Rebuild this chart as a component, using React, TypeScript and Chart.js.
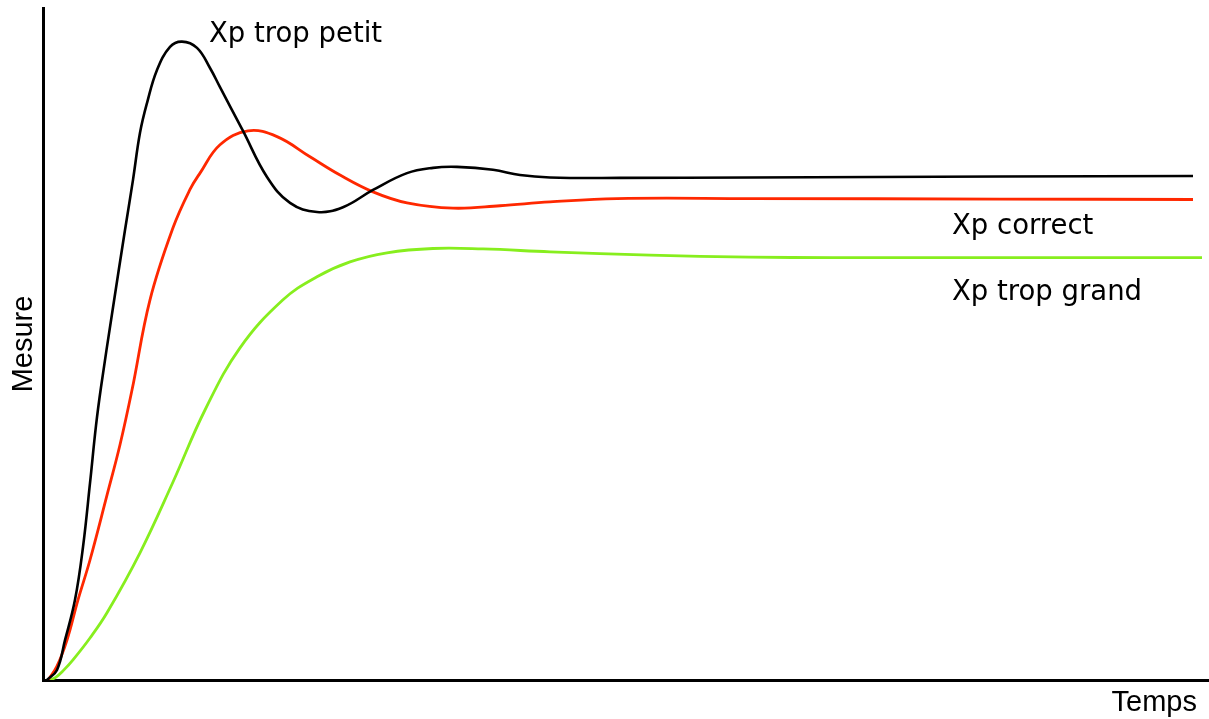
import React, { useEffect, useRef } from "react";
import { Chart, registerables } from "chart.js";

Chart.register(...registerables);

// Time (arbitrary units) and measured value (1 = set point)
const blackT = [0.4, 1.4, 2.2, 3.2, 4.0, 4.7, 5.3, 5.8, 6.9, 8.2, 9.0, 9.7, 10.4, 11.4, 12.7, 13.9, 15.4, 16.7, 17.7, 20.0, 22.4, 24.7, 27.4, 30.0, 33.0, 36.4, 39.0, 41.4, 45.0, 47.7, 50.7, 57.7, 70.7, 95.7, 115.0];
const blackY = [0, 0.021, 0.083, 0.167, 0.277, 0.41, 0.53, 0.61, 0.7625, 0.9375, 1.042, 1.14, 1.202, 1.271, 1.319, 1.33, 1.317, 1.275, 1.235, 1.144, 1.048, 0.994, 0.975, 0.985, 1.021, 1.056, 1.067, 1.069, 1.063, 1.052, 1.047, 1.046, 1.047, 1.049, 1.05];

const redT = [0.5, 1.4, 2.4, 3.5, 4.7, 6.4, 7.7, 8.9, 10.7, 13.0, 14.7, 15.7, 17.7, 20.5, 23.4, 26.7, 29.7, 33.0, 36.4, 41.0, 45.7, 50.7, 57.4, 70.7, 95.7, 115.0];
const redY = [0, 0.029, 0.083, 0.167, 0.25, 0.385, 0.49, 0.604, 0.792, 0.942, 1.022, 1.056, 1.115, 1.144, 1.132, 1.09, 1.052, 1.017, 0.994, 0.983, 0.988, 0.996, 1.003, 1.003, 1.002, 1.001];

const greenT = [0.7, 1.3, 2.0, 3.0, 4.7, 6.4, 9.7, 13.0, 16.2, 19.7, 24.0, 27.4, 30.7, 34.4, 39.0, 44.0, 50.7, 60.7, 70.7, 79.0, 95.7, 115.9];
const greenY = [0, 0.006, 0.019, 0.042, 0.0875, 0.14, 0.265, 0.4125, 0.5625, 0.692, 0.792, 0.84, 0.871, 0.89, 0.899, 0.898, 0.892, 0.885, 0.881, 0.88, 0.88, 0.88];

const seriesLabels = ["Xp trop petit", "Xp correct", "Xp trop grand"];
// label anchors (time, value) — text baseline start
const labelT = [16.6, 90.9, 90.9];
const labelY = [1.329, 0.929, 0.792];

const xTitle = "Temps";
const yTitle = "Mesure";
const xMax = 116.6;
const yMax = 1.4;

const toPoints = (t: number[], y: number[]) => t.map((v, i) => ({ x: v, y: y[i] }));

export default function App() {
  const ref = useRef<HTMLCanvasElement | null>(null);

  useEffect(() => {
    if (!ref.current) return;
    const textPlugin = {
      id: "texts",
      afterDraw(chart: any) {
        const { ctx, chartArea, scales } = chart;
        const xs = scales.x;
        const ys = scales.y;
        ctx.save();
        ctx.fillStyle = "#000";
        ctx.textBaseline = "alphabetic";
        ctx.textAlign = "left";
        ctx.font = '27.5px "DejaVu Sans"';
        seriesLabels.forEach((s, i) => {
          ctx.fillText(s, xs.getPixelForValue(labelT[i]), ys.getPixelForValue(labelY[i]));
        });
        ctx.font = '29px "Liberation Sans"';
        ctx.textAlign = "right";
        ctx.fillText(xTitle, chartArea.right - 12, chartArea.bottom + 31);
        ctx.translate(chartArea.left - 11, (chartArea.top + chartArea.bottom) / 2);
        ctx.rotate(-Math.PI / 2);
        ctx.textAlign = "center";
        ctx.fillText(yTitle, 0, 0);
        ctx.restore();
      },
    };

    const chart = new Chart(ref.current, {
      type: "line",
      data: {
        datasets: [
          { label: seriesLabels[0], data: toPoints(blackT, blackY), borderColor: "#000000", borderWidth: 2.6 },
          { label: seriesLabels[1], data: toPoints(redT, redY), borderColor: "rgb(255,40,0)", borderWidth: 2.8 },
          { label: seriesLabels[2], data: toPoints(greenT, greenY), borderColor: "rgb(135,238,30)", borderWidth: 2.8 },
        ],
      },
      options: {
        responsive: false,
        animation: false,
        devicePixelRatio: 1,
        layout: { padding: { left: 43, top: 8, right: 0, bottom: 39 } },
        elements: {
          point: { radius: 0 },
          line: { tension: 0.4, fill: false },
        },
        plugins: { legend: { display: false }, tooltip: { enabled: false }, title: { display: false } },
        scales: {
          x: {
            type: "linear",
            min: 0,
            max: xMax,
            grid: { display: false, drawTicks: false },
            ticks: { display: false },
            border: { display: true, color: "#000", width: 3 },
            afterFit: (s: any) => { s.height = 0; },
          },
          y: {
            type: "linear",
            min: 0,
            max: yMax,
            grid: { display: false, drawTicks: false },
            ticks: { display: false },
            border: { display: true, color: "#000", width: 3 },
            afterFit: (s: any) => { s.width = 0; },
          },
        },
      },
      plugins: [textPlugin],
    } as any);
    return () => chart.destroy();
  }, []);

  return (
    <div style={{ position: "absolute", left: 0, top: 0, width: 1209, height: 719, background: "#fff" }}>
      <canvas ref={ref} width={1209} height={719} style={{ display: "block" }} />
    </div>
  );
}
